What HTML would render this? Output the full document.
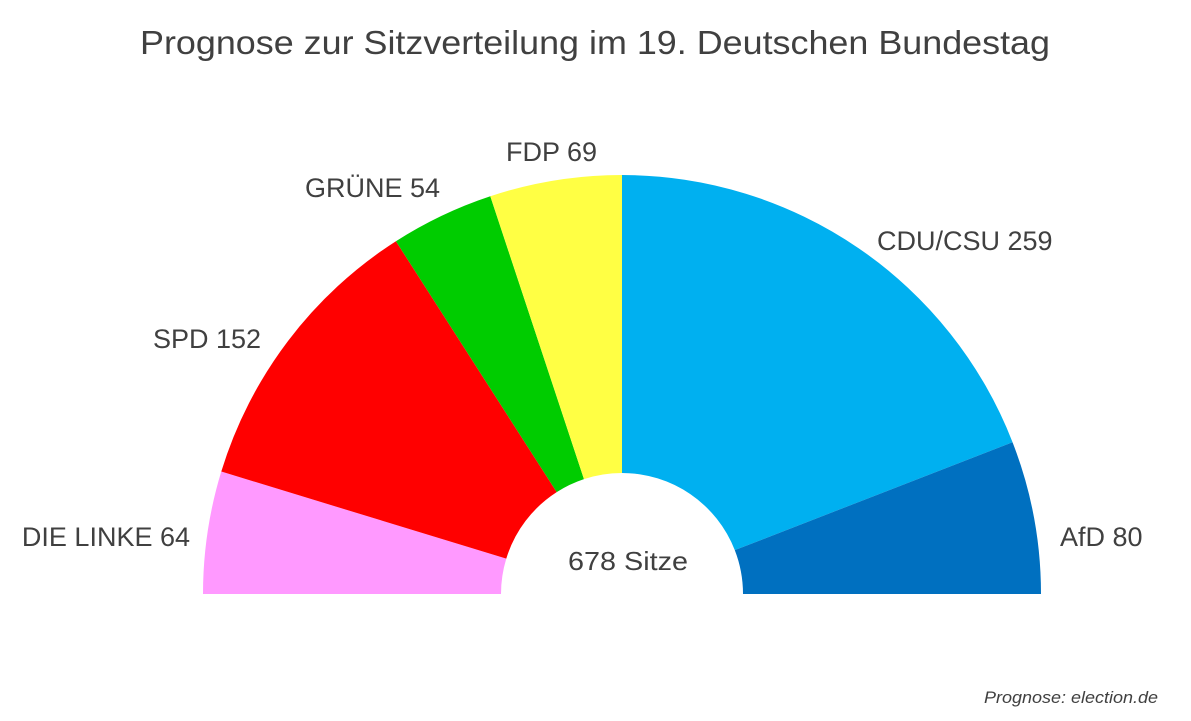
<!DOCTYPE html>
<html><head><meta charset="utf-8"><style>
html,body{margin:0;padding:0;background:#fff;}
svg{display:block;font-family:"Liberation Sans",sans-serif;}
</style></head><body>
<svg id="chart" width="1191" height="721" viewBox="0 0 1191 721">
<text x="595" y="54" text-anchor="middle" font-size="33" fill="#404040" textLength="910" lengthAdjust="spacingAndGlyphs">Prognose zur Sitzverteilung im 19. Deutschen Bundestag</text>
<g id="slices"></g>
<g id="labels"></g>
<text id="total" x="628" y="570" text-anchor="middle" font-size="26" fill="#404040" textLength="120" lengthAdjust="spacingAndGlyphs"></text>
<text x="1158" y="703" text-anchor="end" font-size="17" font-style="italic" fill="#404040" textLength="174" lengthAdjust="spacingAndGlyphs">Prognose: election.de</text>
</svg>
<script>
const parties = ["DIE LINKE","SPD","GRÜNE","FDP","CDU/CSU","AfD"];
const seats = [64,152,54,69,259,80];
const colors = ["#ff99ff","#ff0000","#00cc00","#ffff44","#00b0f0","#0070c0"];
const labelAnchor = [[190,546,"end"],[153,348,"start"],[305,197,"start"],[506,161,"start"],[877,250,"start"],[1060,546,"start"]];
const cx=622, cy=594, R=419, r=121;
const NS="http://www.w3.org/2000/svg";
const total = seats.reduce((a,b)=>a+b,0);
function ang(v){return Math.PI - v/total*Math.PI;}
function pt(rad,a){return [cx+rad*Math.cos(a), cy-rad*Math.sin(a)];}
let cum=0;
const gS=document.getElementById('slices'), gL=document.getElementById('labels');
seats.forEach((s,i)=>{
  const a0=ang(cum), a1=ang(cum+s); cum+=s;
  const p0=pt(R,a0),p1=pt(R,a1),q1=pt(r,a1),q0=pt(r,a0);
  const large=(a0-a1)>Math.PI?1:0;
  const p=document.createElementNS(NS,'path');
  p.setAttribute('d',`M${p0[0]},${p0[1]} A${R},${R} 0 ${large} 1 ${p1[0]},${p1[1]} L${q1[0]},${q1[1]} A${r},${r} 0 ${large} 0 ${q0[0]},${q0[1]} Z`);
  p.setAttribute('fill',colors[i]);
  
  
  gS.appendChild(p);
  const t=document.createElementNS(NS,'text');
  const la=labelAnchor[i];
  t.setAttribute('x',la[0]);t.setAttribute('y',la[1]);t.setAttribute('text-anchor',la[2]);
  t.setAttribute('font-size','27');t.setAttribute('fill','#404040');
  t.textContent=parties[i]+' '+s;
  
  
  gL.appendChild(t);
});
document.getElementById('total').textContent=total+' Sitze';
</script>
</body></html>
